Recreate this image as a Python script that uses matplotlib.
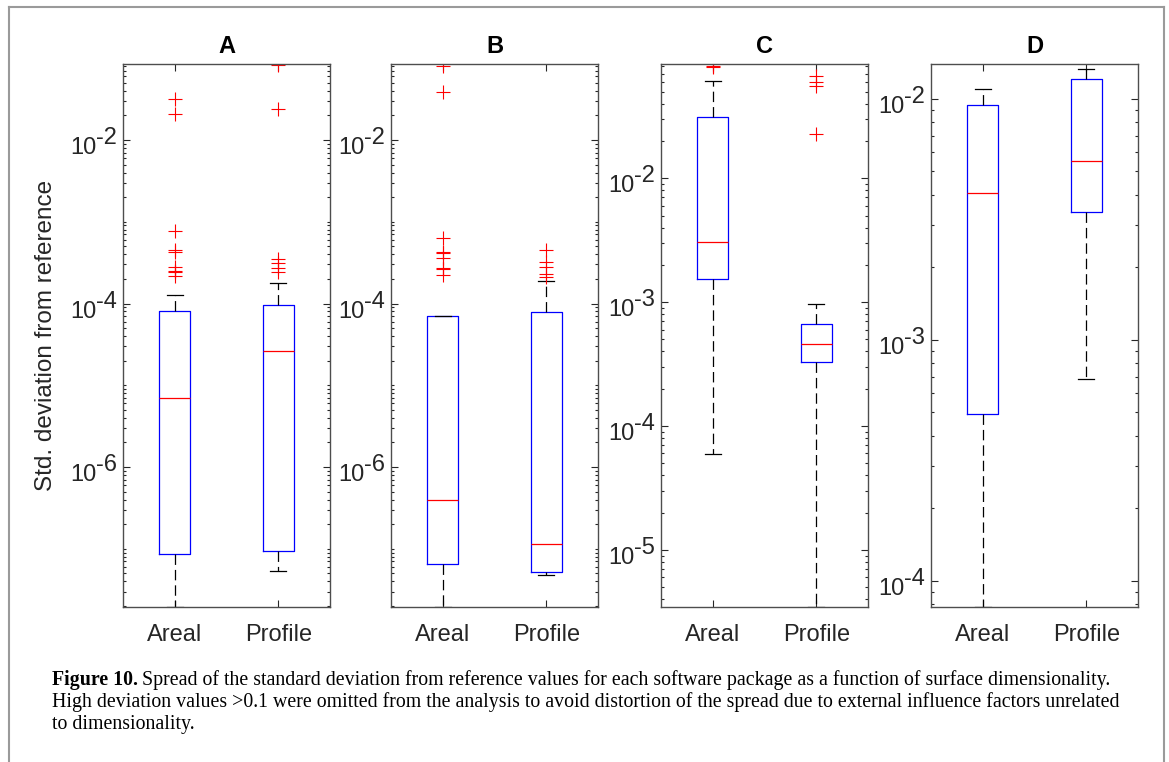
import numpy as np
import matplotlib
matplotlib.use('Agg')
import matplotlib.pyplot as plt
from matplotlib.lines import Line2D
from matplotlib.transforms import ScaledTranslation
from matplotlib.ticker import FixedLocator, LogLocator, NullFormatter

# Fuentes parecidas a Helvetica / Times
plt.rcParams['font.family'] = ['Liberation Sans', 'DejaVu Sans']
plt.rcParams['lines.scale_dashes'] = False

# Paneles y grupos
paneles = ['A', 'B', 'C', 'D']
grupos = ['Areal', 'Profile']

# Resumen de cinco números: bigote inferior, q1, mediana, q3, bigote superior
a_areal = [1.95e-8, 8.7e-8, 7.0e-6, 8.2e-5, 1.28e-4]
a_profile = [5.3e-8, 9.5e-8, 2.6e-5, 9.6e-5, 1.8e-4]
b_areal = [1.95e-8, 6.5e-8, 4.0e-7, 7.0e-5, 7.0e-5]
b_profile = [4.8e-8, 5.2e-8, 1.15e-7, 7.8e-5, 1.89e-4]
c_areal = [5.9e-5, 1.54e-3, 3.03e-3, 3.14e-2, 6.1e-2]
c_profile = [3.46e-6, 3.3e-4, 4.6e-4, 6.65e-4, 9.6e-4]
d_areal = [7.8e-5, 4.93e-4, 4.08e-3, 9.4e-3, 1.10e-2]
d_profile = [6.9e-4, 3.40e-3, 5.53e-3, 1.213e-2, 1.327e-2]

# Valores atípicos
a_areal_out = [0.032, 0.021, 7.7e-4, 4.55e-4, 4.26e-4, 2.8e-4, 2.5e-4, 2.45e-4, 2.16e-4]
a_profile_out = [0.082, 0.024, 3.47e-4, 3.1e-4, 2.72e-4, 2.42e-4]
b_areal_out = [0.081, 0.0384, 6.25e-4, 4.28e-4, 4.09e-4, 3.62e-4, 2.69e-4, 2.61e-4, 2.22e-4]
b_profile_out = [4.5e-4, 3.24e-4, 2.8e-4, 2.29e-4, 2.08e-4]
c_areal_out = [0.081, 0.079]
c_profile_out = [0.067, 0.060, 0.0555, 0.0226]
d_areal_out = []
d_profile_out = []

# Límites del eje y y décadas con etiqueta
ylims = [(1.94e-8, 0.085), (1.94e-8, 0.085), (3.46e-6, 0.0836), (7.8e-5, 0.01395)]
yticks = [[1e-6, 1e-4, 1e-2], [1e-6, 1e-4, 1e-2],
          [1e-5, 1e-4, 1e-3, 1e-2], [1e-4, 1e-3, 1e-2]]

resumenes = [(a_areal, a_profile), (b_areal, b_profile),
             (c_areal, c_profile), (d_areal, d_profile)]
atipicos = [(a_areal_out, a_profile_out), (b_areal_out, b_profile_out),
            (c_areal_out, c_profile_out), (d_areal_out, d_profile_out)]

W, H = 1169, 762
fig = plt.figure(figsize=(W / 100, H / 100), dpi=100)
r = fig.canvas.get_renderer()

izq = [123, 391, 661, 931]
ancho = 207
arriba, abajo = 64, 607
gris = '#262626'
tam_ejes = 17

for i, panel in enumerate(paneles):
    ax = fig.add_axes([izq[i] / W, (H - abajo) / H, ancho / W, (abajo - arriba) / H])
    stats = []
    for nombre, valores, outs in zip(grupos, resumenes[i], atipicos[i]):
        lo, q1, med, q3, hi = valores
        stats.append(dict(label=nombre, whislo=lo, q1=q1, med=med, q3=q3,
                          whishi=hi, fliers=outs))
    ax.bxp(stats, positions=[1, 2], widths=0.3, capwidths=0.15, showfliers=True,
           boxprops=dict(color='blue', lw=0.9),
           medianprops=dict(color='red', lw=0.9),
           whiskerprops=dict(color='black', lw=0.9, linestyle=(0, (7.5, 3.6))),
           capprops=dict(color='black', lw=0.9),
           flierprops=dict(marker='+', markeredgecolor='red', markersize=10,
                           markeredgewidth=0.8, linestyle='none'))

    ax.set_yscale('log')
    ax.set_ylim(ylims[i])
    ax.set_xlim(0.5, 2.5)
    ax.set_xticks([1, 2])
    ax.set_xticklabels(grupos)
    ax.yaxis.set_major_locator(FixedLocator(yticks[i]))
    ax.yaxis.set_minor_locator(LogLocator(base=10, subs=np.arange(1, 10), numticks=100))
    ax.yaxis.set_minor_formatter(NullFormatter())
    ax.yaxis.set_major_formatter(NullFormatter())

    ax.tick_params(which='both', direction='in', top=True, right=True,
                   color=gris, labelcolor=gris, labelsize=tam_ejes, width=0.8)
    ax.tick_params(which='major', length=5)
    ax.tick_params(which='minor', length=2.5)
    ax.tick_params(axis='x', pad=12)
    for s in ax.spines.values():
        s.set_color('#4d4d4d')
        s.set_linewidth(1.0)

    # Etiquetas 10^n al estilo MATLAB: exponente casi del mismo tamaño
    trans = ax.get_yaxis_transform()
    for v in yticks[i]:
        e = int(round(np.log10(v)))
        exp = ax.text(0, v, ('-%d' % abs(e)) if e < 0 else str(e), fontsize=tam_ejes,
                      color=gris, ha='right', va='baseline',
                      transform=trans + ScaledTranslation(-0.06, -0.04, fig.dpi_scale_trans))
        w = exp.get_window_extent(r).width
        ax.text(0, v, '10', fontsize=tam_ejes, color=gris, ha='right', va='baseline',
                transform=trans + ScaledTranslation(-(6 + w) / 100, -0.14,
                                                    fig.dpi_scale_trans))

    ax.set_title(panel, fontweight='bold', fontsize=tam_ejes, pad=8)
    if i == 0:
        ax.set_ylabel('Std. deviation from reference', fontsize=17.5, color=gris)
        ax.yaxis.set_label_coords((57 - 123) / ancho, 0.5)

# Marco del documento
borde = '#9a9a9a'
fig.add_artist(Line2D([9 / W, 9 / W], [0, 1 - 7 / H], color=borde, lw=1.5))
fig.add_artist(Line2D([9 / W, 1164 / W], [1 - 7 / H, 1 - 7 / H], color=borde, lw=1.5))
fig.add_artist(Line2D([1164 / W, 1164 / W], [0, 1 - 7 / H], color=borde, lw=1.5))

# Pie de figura
serif = ['Liberation Serif', 'DejaVu Serif']
tam = 14.3
t = fig.text(52 / W, 1 - 685 / H, 'Figure 10.', fontweight='bold', family=serif,
             fontsize=tam, va='baseline')
bb = t.get_window_extent(r)
fig.text((bb.x1 + 4) / W, 1 - 685 / H,
         'Spread of the standard deviation from reference values for each software '
         'package as a function of surface dimensionality.',
         family=serif, fontsize=tam, va='baseline')
fig.text(52 / W, 1 - 707 / H,
         'High deviation values >0.1 were omitted from the analysis to avoid distortion '
         'of the spread due to external influence factors unrelated',
         family=serif, fontsize=tam, va='baseline')
fig.text(52 / W, 1 - 729 / H, 'to dimensionality.', family=serif, fontsize=tam,
         va='baseline')

fig.savefig('out.png', dpi=100)
plt.close(fig)
